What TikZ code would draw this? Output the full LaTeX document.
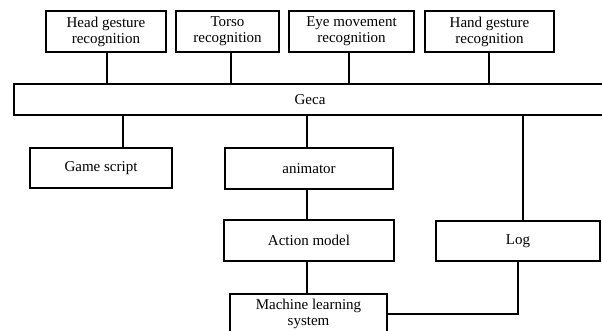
\documentclass[tikz,border=0pt]{standalone}
\usepackage{fontspec}
\setmainfont{Liberation Serif}
\begin{document}
\begin{tikzpicture}[x=1pt,y=-1pt,
  box/.style={draw, line width=1.5pt, fill=white, align=center, inner sep=0pt,
    font=\fontsize{15}{16}\selectfont},
  link/.style={line width=1.5pt}]
\useasboundingbox (0,0) rectangle (602,331);
% top row
\node[box, minimum width=120pt, minimum height=41pt] (head) at (106,31.5) {Head gesture\\recognition};
\node[box, minimum width=103pt, minimum height=41pt] (torso) at (227.5,31.5) {Torso\\recognition};
\node[box, minimum width=125pt, minimum height=41pt] (eye) at (351.5,31.5) {Eye movement\\recognition};
\node[box, minimum width=129pt, minimum height=41pt] (hand) at (489.5,31.5) {Hand gesture\\recognition};
% Geca
\node[box, minimum width=592pt, minimum height=31pt] (geca) at (310,99.5) {Geca};
% second row
\node[box, minimum width=142pt, minimum height=40pt] (game) at (101,168) {Game script};
\node[box, minimum width=168pt, minimum height=41pt] (anim) at (309,168.5) {animator};
\node[box, minimum width=170pt, minimum height=41pt] (action) at (309,240.5) {Action model};
\node[box, minimum width=164pt, minimum height=40pt] (log) at (518,241) {Log};
\node[box, minimum width=157pt, minimum height=40pt] (ml) at (308.5,314) {Machine learning\\system};
% connectors
\draw[link] ([xshift=1pt]head.south) -- ([xshift=1pt]head.south |- geca.north);
\draw[link] ([xshift=3.5pt]torso.south) -- ([xshift=3.5pt]torso.south |- geca.north);
\draw[link] ([xshift=-2.5pt]eye.south) -- ([xshift=-2.5pt]eye.south |- geca.north);
\draw[link] ([xshift=-0.5pt]hand.south) -- ([xshift=-0.5pt]hand.south |- geca.north);
\draw[link] ([xshift=22pt]game.north) -- ([xshift=22pt]game.north |- geca.south);
\draw[link] ([xshift=-2pt]anim.north) -- ([xshift=-2pt]anim.north |- geca.south);
\draw[link] ([xshift=5pt]log.north) -- ([xshift=5pt]log.north |- geca.south);
\draw[link] ([xshift=-2pt]anim.south) -- ([xshift=-2pt]action.north);
\draw[link] ([xshift=-2pt]action.south) -- ([xshift=-2pt]action.south |- ml.north);
\draw[link] (log.south) |- (ml.east);
\end{tikzpicture}
\end{document}
